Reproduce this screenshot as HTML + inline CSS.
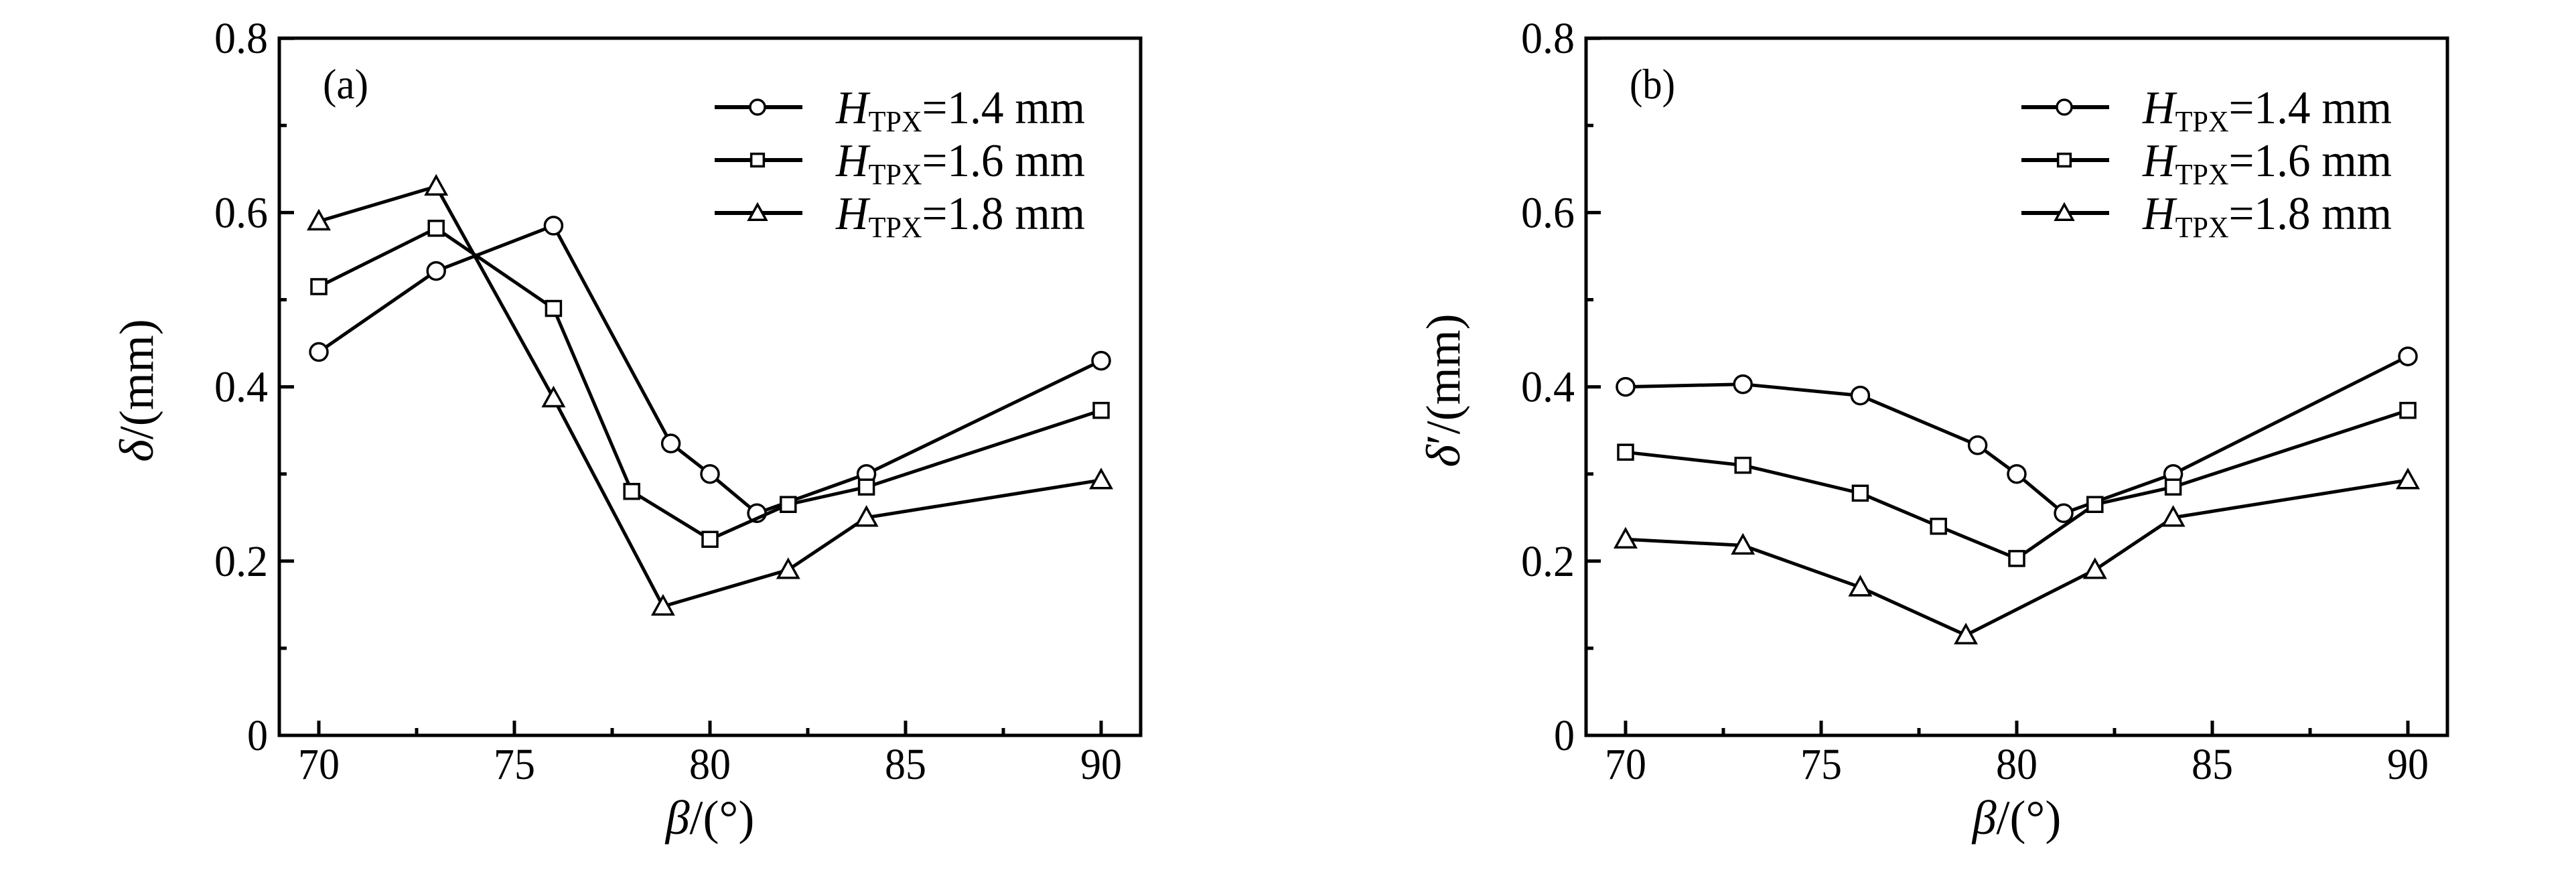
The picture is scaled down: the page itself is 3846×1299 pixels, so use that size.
<!DOCTYPE html>
<html><head><meta charset="utf-8"><style>
html,body{margin:0;padding:0;background:#fff}
svg{display:block}
text{font-family:"Liberation Serif","Times New Roman",serif;fill:#000}
</style></head><body>
<svg id="chart" width="3846" height="1299" viewBox="0 0 3846 1299" xmlns="http://www.w3.org/2000/svg"></svg>
<script>
const xVals = [70,73,76,79,80,81.2,84,90];
const xValsSq = [70,73,76,78,80,82,84,90];
const xValsTriA = [70,73,76,78.8,82,84,90];
const xValsTriB = [70,73,76,78.7,82,84,90];
const aCircle = [0.44,0.533,0.585,0.335,0.30,0.255,0.30,0.43];
const aSquare = [0.515,0.582,0.49,0.28,0.225,0.265,0.285,0.373];
const aTriangle = [0.59,0.63,0.387,0.148,0.19,0.25,0.293];
const bCircle = [0.40,0.403,0.39,0.333,0.30,0.255,0.30,0.435];
const bSquare = [0.325,0.31,0.278,0.24,0.203,0.265,0.285,0.373];
const bTriangle = [0.225,0.218,0.17,0.115,0.19,0.25,0.293];
const xTicks = [70,75,80,85,90];
const yTicks = [0,0.2,0.4,0.6,0.8];
const yTickLabels = ["0","0.2","0.4","0.6","0.8"];
const legendLabels = ["1.4 mm","1.6 mm","1.8 mm"];

const NS="http://www.w3.org/2000/svg";
const svg=document.getElementById('chart');
function el(tag,attrs,parent){const e=document.createElementNS(NS,tag);for(const k in attrs)e.setAttribute(k,attrs[k]);(parent||svg).appendChild(e);return e;}

function panel(off, tag, ylab, series){
  const g=el('g',{});
  
  
  const L=417+off,R=1703+off,T=57,B=1098;
  const xs=v=>476+off+(v-70)*58.4;
  const ys=v=>B-v*1301;
  for(let v=70;v<=90.01;v+=2.5){
    const major=Math.abs(v%5)<0.01;
    const t=el('line',{x1:xs(v),x2:xs(v),y1:B,y2:B-(major?22:11),stroke:'#000','stroke-width':5},g);
    
    
  }
  for(let v=0.1;v<0.8;v+=0.1){
    const major=Math.round(v*10)%2===0;
    const t=el('line',{x1:L,x2:L+(major?22:11),y1:ys(v),y2:ys(v),stroke:'#000','stroke-width':5},g);
    
    
  }
  const frame=el('rect',{x:L,y:T,width:R-L,height:B-T,fill:'none',stroke:'#000','stroke-width':5},g);
  
  
  xTicks.forEach(v=>{
    const t=el('text',{x:xs(v),y:1163,'font-size':66,'text-anchor':'middle',textLength:62,lengthAdjust:'spacingAndGlyphs'},g);t.textContent=v;
    
    
  });
  yTicks.forEach((v,i)=>{
    const lab=yTickLabels[i];
    const t=el('text',{x:L-17,y:ys(v)+22,'font-size':66,'text-anchor':'end',textLength:lab.length>1?80:31,lengthAdjust:'spacingAndGlyphs'},g);t.textContent=lab;
    
    
  });
  const pl=el('text',{x:482+off,y:147,'font-size':64,textLength:68,lengthAdjust:'spacingAndGlyphs'},g);pl.textContent='('+tag+')';
  
  
  const xt=el('text',{x:1060+off,y:1245,'font-size':72,'text-anchor':'middle'},g);
  xt.innerHTML='<tspan font-style="italic">β</tspan>/(°)';
  
  
  const yt=el('text',{x:0,y:0,'font-size':72,'text-anchor':'middle',transform:`translate(${228+off},583) rotate(-90)`},g);
  yt.innerHTML='<tspan font-style="italic">δ</tspan>'+ylab+'/(mm)';
  
  
  series.forEach((s,si)=>{
    const sg=el('g',{},g);
    
    
    const pts=s.x.map((v,i)=>[xs(v),ys(s.y[i])]);
    const line=el('polyline',{points:pts.map(p=>p.join(',')).join(' '),fill:'none',stroke:'#000','stroke-width':5},sg);
    
    
    pts.forEach(p=>{const m=marker(s.shape,p[0],p[1],sg);
      
      });
    const ly=160+si*79;
    const ll=el('line',{x1:1067+off,x2:1198+off,y1:ly,y2:ly,stroke:'#000','stroke-width':6},g);
    
    
    const lm=marker(s.shape,1131+off,ly,g,0.85);
    
    
    const lt=el('text',{x:1248+off,y:ly+24,'font-size':70,textLength:372,lengthAdjust:'spacingAndGlyphs'},g);
    lt.innerHTML='<tspan font-style="italic">H</tspan><tspan font-size="44" dy="12">TPX</tspan><tspan dy="-12">='+legendLabels[si]+'</tspan>';
    
    
  });
}
function marker(shape,x,y,parent,s){
  s=s||1;
  if(shape==='circle')return el('circle',{cx:x,cy:y,r:13*s,fill:'#fff',stroke:'#000','stroke-width':3.5},parent);
  if(shape==='square')return el('rect',{x:x-11*s,y:y-11*s,width:22*s,height:22*s,fill:'#fff',stroke:'#000','stroke-width':3.5},parent);
  return el('polygon',{points:`${x},${y-15*s} ${x-15*s},${y+12*s} ${x+15*s},${y+12*s}`,fill:'#fff',stroke:'#000','stroke-width':3.5},parent);
}
panel(0,'a','',[
  {name:'h1-4',shape:'circle',x:xVals,y:aCircle},
  {name:'h1-6',shape:'square',x:xValsSq,y:aSquare},
  {name:'h1-8',shape:'triangle',x:xValsTriA,y:aTriangle}]);
panel(1951,'b','′',[
  {name:'h1-4',shape:'circle',x:xVals,y:bCircle},
  {name:'h1-6',shape:'square',x:xValsSq,y:bSquare},
  {name:'h1-8',shape:'triangle',x:xValsTriB,y:bTriangle}]);
</script>
</body></html>
